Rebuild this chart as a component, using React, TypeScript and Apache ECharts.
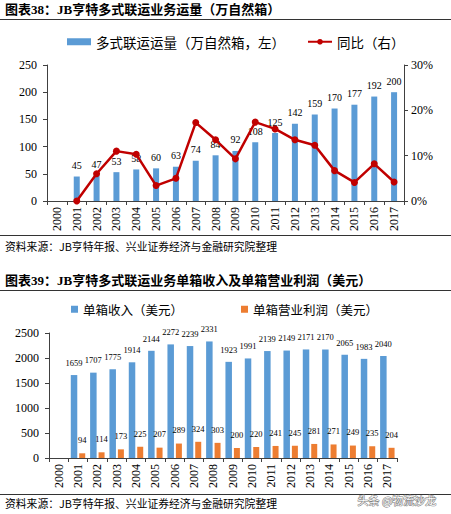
import React, { useEffect, useRef } from "react";
import * as echarts from "echarts";

const years = ["2000","2001","2002","2003","2004","2005","2006","2007","2008","2009","2010","2011","2012","2013","2014","2015","2016","2017"];
const volume = ["-",45,47,53,58,60,63,74,84,92,108,125,142,159,170,177,192,200];
const yoy = ["-",0,6.0,11.0,10.3,3.4,5.0,17.3,13.5,9.3,17.4,15.9,13.5,12.3,6.7,4.1,8.2,4.2];
const revenue = ["-",1659,1707,1775,1914,2144,2272,2239,2331,1923,1991,2139,2149,2171,2170,2065,1983,2040];
const profit = ["-",94,114,173,225,207,289,324,303,200,220,241,245,281,271,249,235,204];

const title1 = "图表38：JB亨特多式联运业务运量（万自然箱）";
const title2 = "图表39：JB亨特多式联运业务单箱收入及单箱营业利润（美元）";
const source = "资料来源：JB亨特年报、兴业证券经济与金融研究院整理";
const volName = "多式联运运量（万自然箱，左）";
const yoyName = "同比（右）";
const revName = "单箱收入（美元）";
const profName = "单箱营业利润（美元）";

const FONT = '"Liberation Serif", "Noto Sans CJK SC", serif';
const CJK = '"Noto Sans CJK SC", "Liberation Serif", sans-serif';

export default function App() {
  const ref = useRef<HTMLDivElement>(null);
  useEffect(() => {
    document.body.style.margin = "0";
    const chart = echarts.init(ref.current!, null, { renderer: "svg" });
    const axisLine = { show: true, lineStyle: { color: "#404040", width: 1 } };
    const axisLabel = { color: "#000", fontFamily: FONT, fontSize: 12, formatter: (v: any) => String(v) };
    const xCommon = (gridIndex: number) => ({
      type: "category",
      gridIndex,
      data: years,
      axisLine,
      axisTick: { show: true, alignWithLabel: false, length: 4, lineStyle: { color: "#404040" } },
      axisLabel: { color: "#000", fontFamily: FONT, fontSize: 12, rotate: 90, margin: 6 },
      splitLine: { show: false },
    });
    const option: any = {
      animation: false,
      backgroundColor: "#fff",
      legend: [
        {
          top: 30,
          left: 62,
          itemGap: 22,
          itemWidth: 24,
          itemHeight: 7,
          textStyle: { fontFamily: CJK, fontSize: 13.5, color: "#000" },
          data: [
            { name: volName, icon: "rect" },
            { name: yoyName },
          ],
        },
        {
          top: 298,
          left: 66,
          itemGap: 58,
          itemWidth: 7,
          itemHeight: 7,
          textStyle: { fontFamily: CJK, fontSize: 12.5, color: "#000" },
          data: [
            { name: revName, icon: "rect" },
            { name: profName, icon: "rect" },
          ],
        },
      ],
      grid: [
        { left: 47, right: 47, top: 65, height: 136 },
        { left: 49, right: 54, top: 333, height: 125 },
      ],
      xAxis: [xCommon(0), xCommon(1)],
      yAxis: [
        {
          type: "value",
          gridIndex: 0,
          min: 0,
          max: 250,
          interval: 50,
          axisLine,
          axisTick: { show: true, length: 4, lineStyle: { color: "#404040" } },
          axisLabel: { ...axisLabel, margin: 10 },
          splitLine: { show: false },
        },
        {
          type: "value",
          gridIndex: 0,
          position: "right",
          min: 0,
          max: 30,
          interval: 10,
          axisLine,
          axisTick: { show: true, length: 4, lineStyle: { color: "#404040" } },
          axisLabel: { ...axisLabel, margin: 7, formatter: "{value}%" },
          splitLine: { show: false },
        },
        {
          type: "value",
          gridIndex: 1,
          min: 0,
          max: 2500,
          interval: 500,
          axisLine,
          axisTick: { show: true, length: 4, lineStyle: { color: "#404040" } },
          axisLabel: { ...axisLabel, margin: 10 },
          splitLine: { show: false },
        },
      ],
      series: [
        {
          name: volName,
          type: "bar",
          xAxisIndex: 0,
          yAxisIndex: 0,
          data: volume,
          barWidth: 6,
          itemStyle: { color: "#5B9BD5" },
          label: { show: true, position: "top", distance: 6, color: "#000", fontFamily: FONT, fontSize: 10 },
        },
        {
          name: yoyName,
          type: "line",
          xAxisIndex: 0,
          yAxisIndex: 1,
          data: yoy,
          symbol: "circle",
          symbolSize: 7,
          lineStyle: { color: "#C00000", width: 2.5 },
          itemStyle: { color: "#C00000" },
        },
        {
          name: revName,
          type: "bar",
          xAxisIndex: 1,
          yAxisIndex: 2,
          data: revenue,
          barWidth: 6.5,
          barGap: "30%",
          itemStyle: { color: "#5B9BD5" },
          label: { show: true, position: "top", distance: 8, color: "#000", fontFamily: FONT, fontSize: 8.5 },
        },
        {
          name: profName,
          type: "bar",
          xAxisIndex: 1,
          yAxisIndex: 2,
          data: profit,
          barWidth: 6,
          barGap: "30%",
          itemStyle: { color: "#ED7D31" },
          label: { show: true, position: "top", distance: 9, color: "#000", fontFamily: FONT, fontSize: 8.5 },
        },
      ],
      graphic: [
        { type: "text", left: 5, top: 3, style: { text: title1, fontFamily: FONT, fontSize: 13, fontWeight: "bold", fill: "#000" } },
        { type: "line", shape: { x1: 0, y1: 19.5, x2: 451, y2: 19.5 }, style: { stroke: "#333", lineWidth: 1 } },
        { type: "line", shape: { x1: 0, y1: 235.5, x2: 451, y2: 235.5 }, style: { stroke: "#333", lineWidth: 1 } },
        { type: "text", left: 5, top: 241, style: { text: source, fontFamily: CJK, fontSize: 10.8, fill: "#000" } },
        { type: "text", left: 5, top: 274, style: { text: title2, fontFamily: FONT, fontSize: 13, fontWeight: "bold", fill: "#000" } },
        { type: "line", shape: { x1: 0, y1: 290.5, x2: 451, y2: 290.5 }, style: { stroke: "#333", lineWidth: 1 } },
        { type: "line", shape: { x1: 0, y1: 494.5, x2: 451, y2: 494.5 }, style: { stroke: "#333", lineWidth: 1 } },
        { type: "text", left: 5, top: 498, style: { text: source, fontFamily: CJK, fontSize: 10.8, fill: "#000" } },
        { type: "text", left: 357, top: 494, style: { text: "头条 @物流沙龙", fontFamily: CJK, fontSize: 11, fill: "#fff", stroke: "#777", lineWidth: 1 } },
      ],
    };
    chart.setOption(option);
    return () => chart.dispose();
  }, []);
  return <div ref={ref} style={{ width: 451, height: 514 }} />;
}
